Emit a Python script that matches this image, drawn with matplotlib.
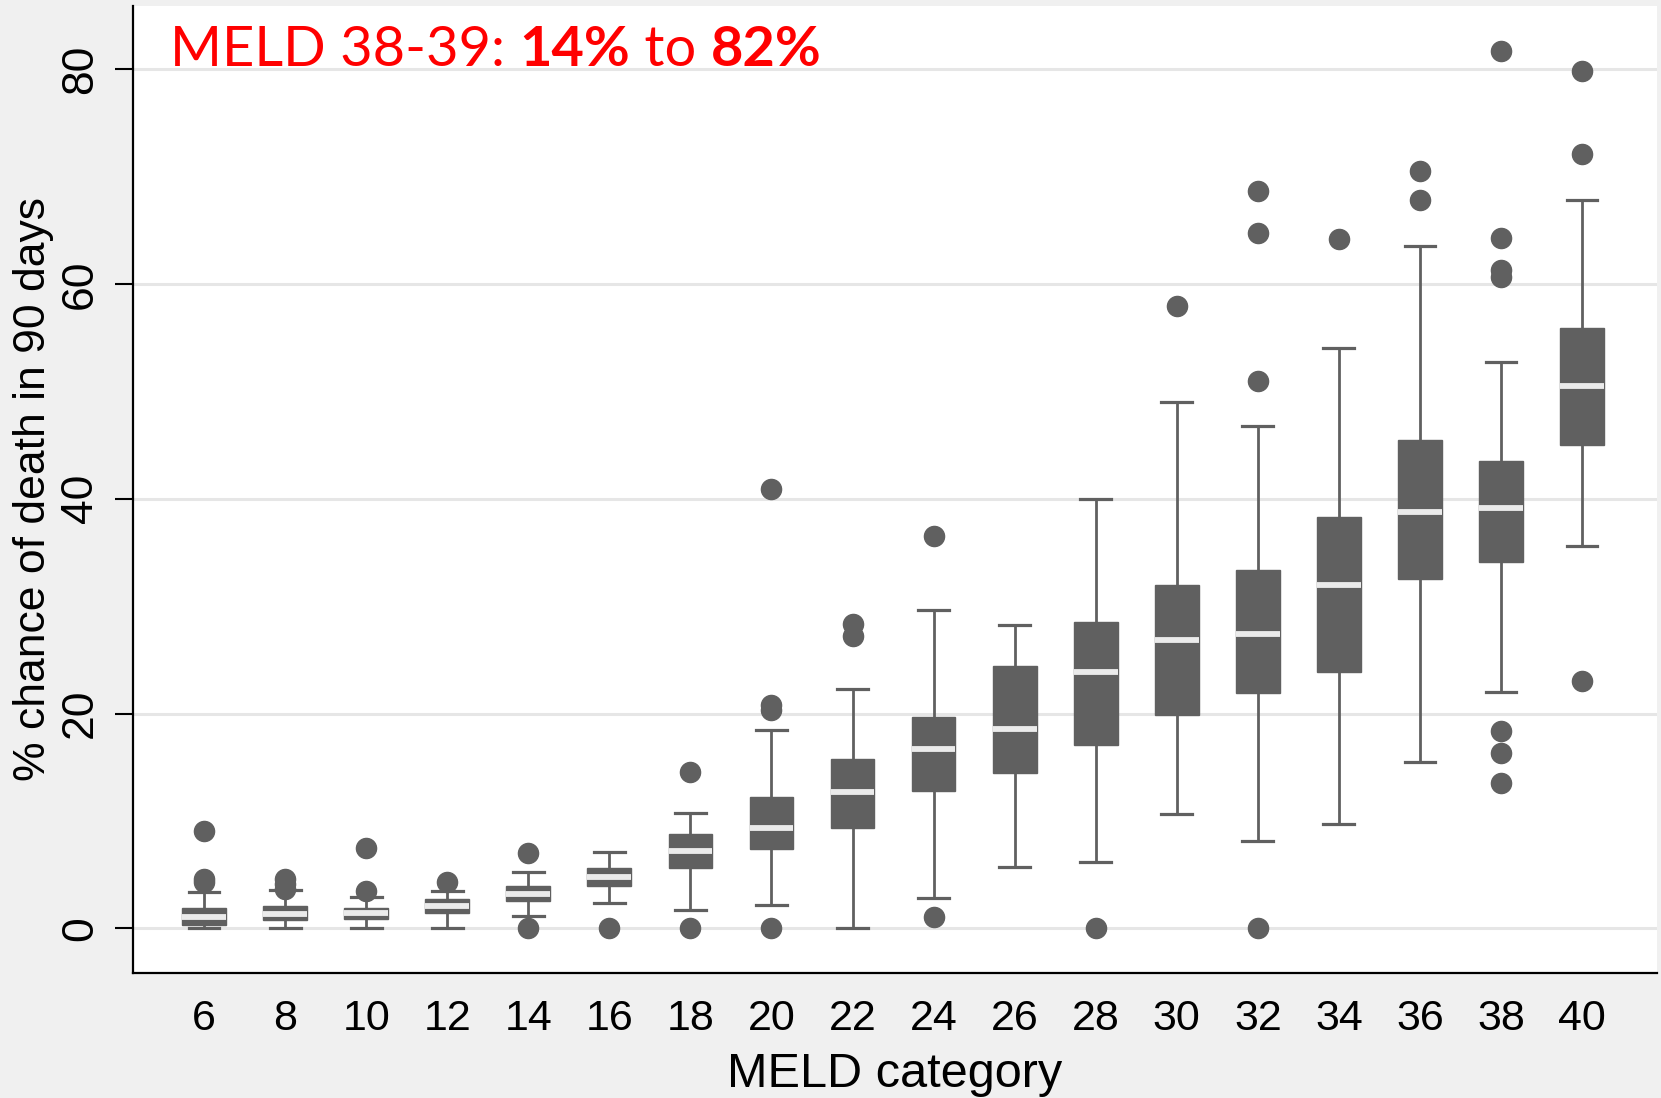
import matplotlib
matplotlib.use("Agg")
import matplotlib.pyplot as plt
from matplotlib.offsetbox import TextArea, HPacker, AnchoredOffsetbox

categories = [6, 8, 10, 12, 14, 16, 18, 20, 22, 24, 26, 28, 30, 32, 34, 36, 38, 40]
q1 = [0.3, 0.8, 0.9, 1.45, 2.55, 3.95, 5.6, 7.35, 9.35, 12.8, 14.5, 17.1, 19.9, 21.9, 23.9, 32.5, 34.1, 45.0]
med = [1.1, 1.35, 1.4, 2.05, 3.2, 4.75, 7.2, 9.3, 12.7, 16.65, 18.6, 23.9, 26.8, 27.4, 32.0, 38.8, 39.1, 50.5]
q3 = [1.9, 2.1, 1.85, 2.7, 3.95, 5.6, 8.75, 12.2, 15.75, 19.7, 24.4, 28.5, 32.0, 33.4, 38.3, 45.5, 43.5, 55.9]
whislo = [0.0, 0.0, 0.0, 0.0, 1.15, 2.35, 1.75, 2.15, 0.0, 2.85, 5.7, 6.2, 10.6, 8.1, 9.75, 15.5, 22.0, 35.6]
whishi = [3.4, 3.55, 2.9, 3.5, 5.25, 7.1, 10.7, 18.45, 22.25, 29.65, 28.2, 40.0, 49.0, 46.8, 54.0, 63.5, 52.7, 67.8]
fliers = [
    [9.05, 4.6, 4.3],
    [4.6, 4.1, 3.7],
    [7.45, 3.5],
    [4.3],
    [7.05, 0.0],
    [0.0],
    [14.6, 0.0],
    [40.9, 20.8, 20.3, 0.0],
    [28.3, 27.2],
    [36.5, 1.1],
    [],
    [0.0],
    [57.9],
    [68.6, 64.7, 51.0, 0.0],
    [64.2],
    [70.5, 67.8],
    [81.7, 64.3, 61.3, 60.6, 18.4, 16.3, 13.5],
    [79.8, 72.1, 23.0],
]
y_ticks = [0, 20, 40, 60, 80]
title_parts = [("MELD 38-39: ", "normal"), ("14%", "bold"), (" to ", "normal"), ("82%", "bold")]

BOX = "#606060"
MEDC = "#ebebeb"
BG = "#f0f0f0"

fig = plt.figure(figsize=(16.61, 10.98), dpi=100, facecolor=BG)
ax = fig.add_axes([133 / 1661, 1 - 973 / 1098, (1657 - 133) / 1661, (973 - 6) / 1098])
ax.set_facecolor("white")

stats = []
for i in range(len(categories)):
    stats.append(dict(label=str(categories[i]), q1=q1[i], med=med[i], q3=q3[i],
                      whislo=whislo[i], whishi=whishi[i], fliers=fliers[i]))

positions = list(range(1, len(categories) + 1))
ax.bxp(stats, positions=positions, widths=0.54, patch_artist=True, showfliers=True,
       boxprops=dict(facecolor=BOX, edgecolor=BOX, linewidth=1),
       medianprops=dict(color=MEDC, linewidth=4.2, solid_capstyle="butt"),
       whiskerprops=dict(color=BOX, linewidth=2.0),
       capprops=dict(color=BOX, linewidth=2.3),
       capwidths=0.38,
       flierprops=dict(marker="o", markerfacecolor=BOX, markeredgecolor=BOX,
                       markersize=14.5, linestyle="none"),
       zorder=3)

ax.set_xlim(0.123, 18.925)
ax.set_ylim(-4.16, 85.87)
ax.set_yticks(y_ticks)
ax.set_yticklabels([str(v) for v in y_ticks], rotation=90, va="center",
                   fontsize=32, family="Liberation Sans")
ax.set_xticks(positions)
ax.set_xticklabels([str(c) for c in categories], fontsize=31, family="Liberation Sans")
ax.tick_params(axis="y", length=13, width=1.5, pad=10, color="black")
ax.tick_params(axis="x", length=0, pad=19)
ax.grid(axis="y", color="#e6e6e6", linewidth=2.2, zorder=0)
ax.set_axisbelow(True)
for s in ["top", "right"]:
    ax.spines[s].set_visible(False)
for s in ["left", "bottom"]:
    ax.spines[s].set_linewidth(1.6)
    ax.spines[s].set_color("black")

ax.set_ylabel("% chance of death in 90 days", fontsize=32, family="Liberation Sans", labelpad=4)
ax.set_xlabel("MELD category", fontsize=35, family="Liberation Sans", labelpad=9)

areas = [TextArea(t, textprops=dict(color="#ff0000", fontsize=40.3, fontweight=w, family="Lato"))
         for t, w in title_parts]
pack = HPacker(children=areas, align="baseline", pad=0, sep=0)
anch = AnchoredOffsetbox(loc="upper left", child=pack, pad=0, borderpad=0, frameon=False,
                         bbox_to_anchor=(170 / 1661, 1 - 25 / 1098), bbox_transform=fig.transFigure)
ax.add_artist(anch)

fig.savefig("out.png", dpi=100, facecolor=BG)
